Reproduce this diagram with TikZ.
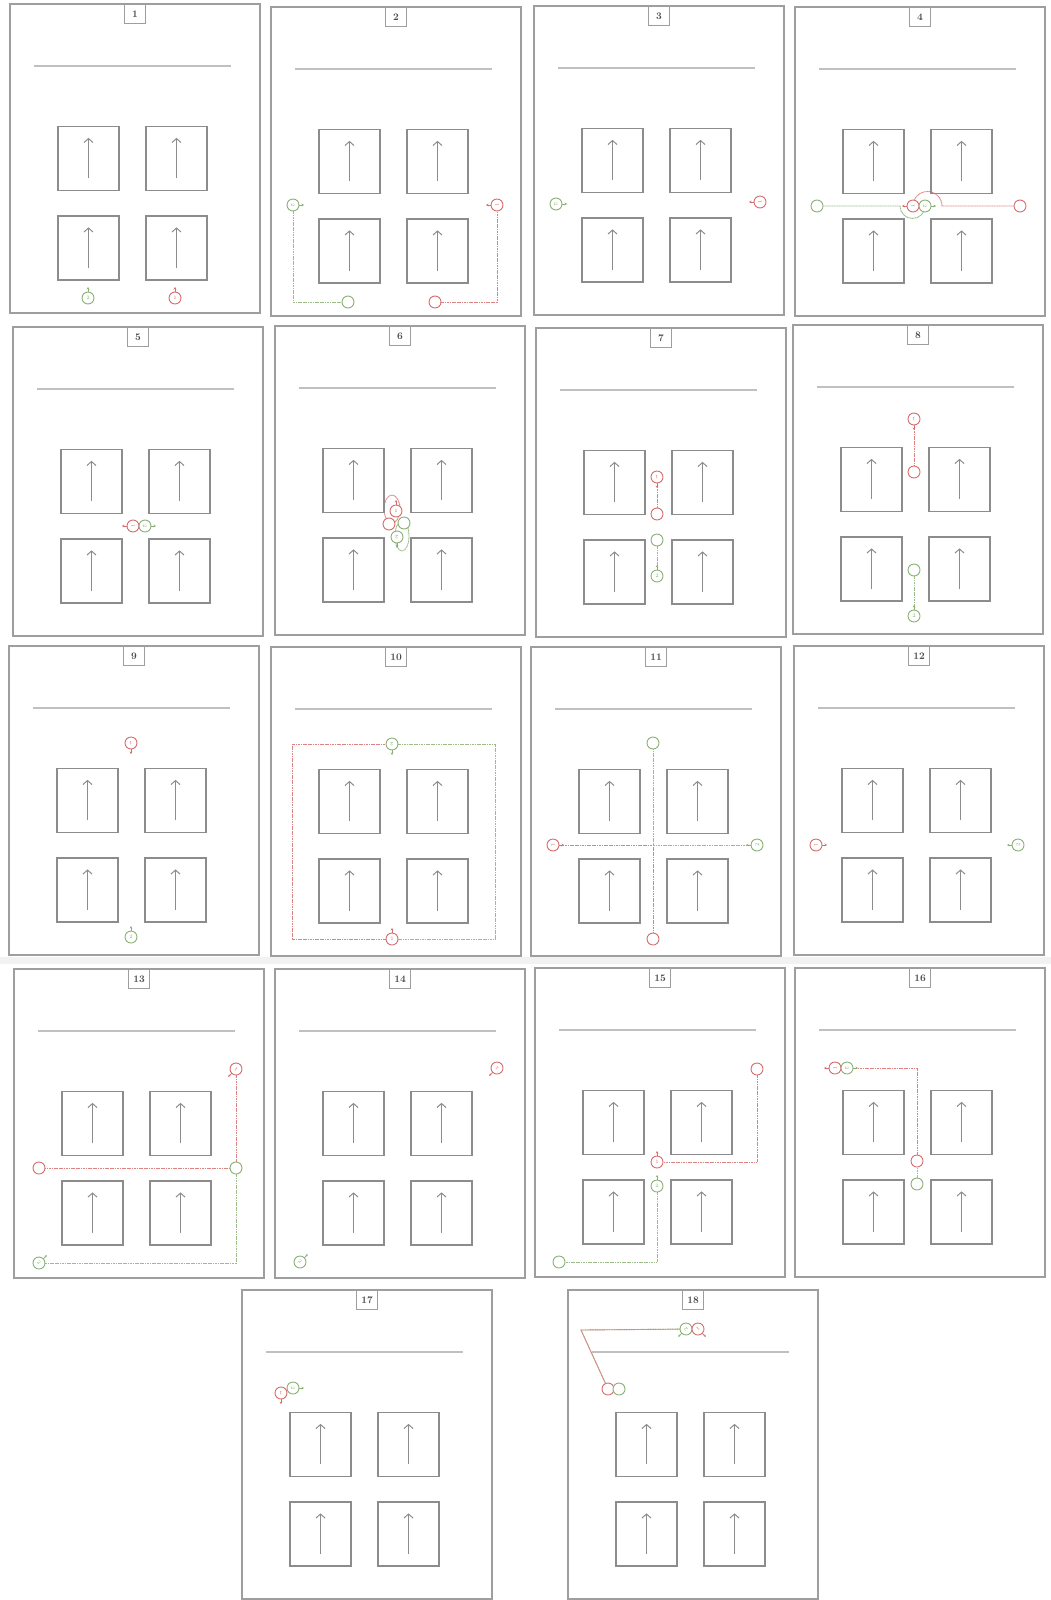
\documentclass[tikz,border=0pt]{standalone}
\usetikzlibrary{arrows.meta,backgrounds}
\definecolor{redc}{RGB}{214,108,108}
\definecolor{greenc}{RGB}{138,176,116}
\definecolor{framec}{RGB}{158,158,158}
\definecolor{boxc}{RGB}{140,140,140}
\definecolor{rulec}{RGB}{192,192,192}
% marker: name, position, r/g, number, heading (degrees)
\newcommand{\mrk}[5]{%
  \node[#3mark,rotate=#5-90] (#1) at #2 {#4};
  \draw[#3tick] (#1.center) ++({6*cos(#5)},{-6*sin(#5)}) -- ++({5*cos(#5)},{-5*sin(#5)});}

\begin{document}
\begin{tikzpicture}[x=1pt,y=-1pt,
  frame/.style={draw=framec,line width=1.6pt},
  lblbox/.style={draw=framec,line width=1pt,fill=white,minimum width=21pt,minimum height=19pt,inner sep=1pt,font=\bfseries\fontsize{10}{10}\selectfont,text=black!70},
  rule/.style={draw=rulec,line width=1.6pt},
  cell/.style={draw=boxc,line width=1.3pt,minimum width=61pt,minimum height=64pt,inner sep=0pt},
  uparrow/.style={draw=boxc,line width=1pt,-{Straight Barb[length=4pt,width=9pt]}},
  rmark/.style={circle,draw=redc,line width=0.9pt,fill=white,minimum size=12pt,inner sep=0pt,text=redc,font=\fontsize{5}{5}\selectfont},
  gmark/.style={circle,draw=greenc,line width=0.9pt,fill=white,minimum size=12pt,inner sep=0pt,text=greenc,font=\fontsize{5}{5}\selectfont},
  rdot/.style={circle,draw=redc,line width=0.9pt,fill=white,minimum size=12pt,inner sep=0pt},
  gdot/.style={circle,draw=greenc,line width=0.9pt,fill=white,minimum size=12pt,inner sep=0pt},
  rtick/.style={draw=redc,line width=0.7pt,-{Stealth[length=2.5pt,width=2.5pt]}},
  gtick/.style={draw=greenc,line width=0.7pt,-{Stealth[length=2.5pt,width=2.5pt]}},
  rpath/.style={draw=redc!85,line width=0.9pt,dash pattern=on 1.2pt off 0.5pt},
  gpath/.style={draw=greenc!85,line width=0.9pt,dash pattern=on 1.2pt off 0.5pt}]
\useasboundingbox (0,0) rectangle (1051,1600);
\fill[gray!10] (0,957) rectangle (1051,964);
% the 18 frames with their grid of four cells
\foreach \px/\py/\n in {10/4/1,271/7/2,534/6/3,795/7/4,13/327/5,275/326/6,536/328/7,793/325/8,
  9/646/9,271/647/10,531/647/11,794/646/12,14/969/13,275/969/14,535/968/15,795/968/16,242/1290/17,568/1290/18}{
\begin{scope}[shift={(\px,\py)}]
\draw[frame] (0,0) rectangle (250,309);
\node[lblbox,anchor=north] (lbl\n) at (125,0) {\n};
\draw[rule] (24,62) -- (221,62);
\foreach \bx/\by/\k in {78.5/154.5/a,166.5/154.5/b,78.5/244/c,166.5/244/d}{
  \node[cell] (b\n\k) at (\bx,\by) {};
  \draw[uparrow] ([yshift=13pt]b\n\k.south) -- ([yshift=-12pt]b\n\k.north);}
\end{scope}}
% 1
\begin{scope}[shift={(10,4)}]
\mrk{p1g}{(78,294)}{g}{2}{90}
\mrk{p1r}{(165,294)}{r}{1}{90}
\end{scope}
% 2
\begin{scope}[shift={(271,7)}]
\mrk{p2g}{(22,198)}{g}{2}{0}
\mrk{p2r}{(226,198)}{r}{1}{180}
\node[gdot] (p2go) at (77,295) {};
\node[rdot] (p2ro) at (164,295) {};
\begin{scope}[on background layer]
\draw[gpath] (p2g) |- (p2go);
\draw[rpath] (p2ro) -| (p2r);
\end{scope}
\end{scope}
% 3
\begin{scope}[shift={(534,6)}]
\mrk{p3g}{(22,198)}{g}{2}{0}
\mrk{p3r}{(226,196)}{r}{1}{180}
\end{scope}
% 4
\begin{scope}[shift={(795,7)}]
\node[gdot] (p4go) at (22,199) {};
\node[rdot] (p4ro) at (225,199) {};
\mrk{p4r}{(118,199)}{r}{1}{180}
\mrk{p4g}{(130,199)}{g}{2}{0}
\begin{scope}[on background layer]
\draw[gpath] (p4go) -- (105,199) arc[start angle=180,end angle=0,radius=12.5];
\draw[rpath] (p4ro) -- (147,199) arc[start angle=0,end angle=-180,radius=14.5];
\end{scope}
\end{scope}
% 5
\begin{scope}[shift={(13,327)}]
\mrk{p5r}{(120,199)}{r}{1}{180}
\mrk{p5g}{(132,199)}{g}{2}{0}
\end{scope}
% 6
\begin{scope}[shift={(275,326)}]
\node[rdot] (p6ro) at (114,198) {};
\node[gdot] (p6go) at (129,197) {};
\mrk{p6r}{(121,185)}{r}{1}{90}
\mrk{p6g}{(122,211)}{g}{2}{270}
\begin{scope}[on background layer]
\draw[rpath] (117,183) ellipse[x radius=8,y radius=14];
\draw[gpath] (127,210) ellipse[x radius=7,y radius=15];
\end{scope}
\end{scope}
% 7
\begin{scope}[shift={(536,328)}]
\mrk{p7r}{(121,149)}{r}{1}{270}
\node[rdot] (p7ro) at (121,186) {};
\node[gdot] (p7go) at (121,212) {};
\mrk{p7g}{(121,248)}{g}{2}{90}
\begin{scope}[on background layer]
\draw[rpath] (p7r) -- (p7ro);
\draw[gpath] (p7go) -- (p7g);
\end{scope}
\end{scope}
% 8
\begin{scope}[shift={(793,325)}]
\mrk{p8r}{(121,94)}{r}{1}{270}
\node[rdot] (p8ro) at (121,147) {};
\node[gdot] (p8go) at (121,245) {};
\mrk{p8g}{(121,291)}{g}{2}{90}
\begin{scope}[on background layer]
\draw[rpath] (p8r) -- (p8ro);
\draw[gpath] (p8go) -- (p8g);
\end{scope}
\end{scope}
% 9
\begin{scope}[shift={(9,646)}]
\mrk{p9r}{(122,97)}{r}{1}{270}
\mrk{p9g}{(122,291)}{g}{2}{90}
\end{scope}
% 10
\begin{scope}[shift={(271,647)}]
\mrk{p10g}{(121,97)}{g}{2}{270}
\mrk{p10r}{(121,292)}{r}{1}{90}
\begin{scope}[on background layer]
\draw[rpath] (p10r) -| (21,97) -- (p10g);
\draw[gpath] (p10g) -| (224,292) -- (p10r);
\end{scope}
\end{scope}
% 11
\begin{scope}[shift={(531,647)}]
\node[gdot] (p11go) at (122,96) {};
\node[rdot] (p11ro) at (122,292) {};
\mrk{p11r}{(22,198)}{r}{1}{0}
\mrk{p11g}{(226,198)}{g}{2}{180}
\begin{scope}[on background layer]
\draw[rpath] (p11r) -| (p11ro);
\draw[gpath] (p11g) -| (p11go);
\end{scope}
\end{scope}
% 12
\begin{scope}[shift={(794,646)}]
\mrk{p12r}{(22,199)}{r}{1}{0}
\mrk{p12g}{(224,199)}{g}{2}{180}
\end{scope}
% 13
\begin{scope}[shift={(14,969)}]
\node[rdot] (p13ro) at (25,199) {};
\node[gdot] (p13go) at (222,199) {};
\mrk{p13r}{(222,100)}{r}{1}{225}
\mrk{p13g}{(25,294)}{g}{2}{45}
\begin{scope}[on background layer]
\draw[rpath] (p13r) |- (p13ro);
\draw[gpath] (p13go) |- (p13g);
\end{scope}
\end{scope}
% 14
\begin{scope}[shift={(275,969)}]
\mrk{p14r}{(222,99)}{r}{1}{225}
\mrk{p14g}{(25,293)}{g}{2}{45}
\end{scope}
% 15
\begin{scope}[shift={(535,968)}]
\node[rdot] (p15ro) at (222,101) {};
\node[gdot] (p15go) at (24,294) {};
\mrk{p15r}{(122,194)}{r}{1}{90}
\mrk{p15g}{(122,218)}{g}{2}{90}
\begin{scope}[on background layer]
\draw[rpath] (p15ro) |- (p15r);
\draw[gpath] (p15g) |- (p15go);
\end{scope}
\end{scope}
% 16
\begin{scope}[shift={(795,968)}]
\node[rdot] (p16ro) at (122,193) {};
\node[gdot] (p16go) at (122,216) {};
\mrk{p16r}{(40,100)}{r}{1}{180}
\mrk{p16g}{(52,100)}{g}{2}{0}
\begin{scope}[on background layer]
\draw[gpath] (p16go) -- (p16ro) |- (p16g);
\draw[rpath] (p16ro) |- (p16r);
\end{scope}
\end{scope}
% 17
\begin{scope}[shift={(242,1290)}]
\mrk{p17r}{(39,103)}{r}{1}{270}
\mrk{p17g}{(51,98)}{g}{2}{0}
\end{scope}
% 18
\begin{scope}[shift={(568,1290)}]
\node[rdot] (p18ro) at (40,99) {};
\node[gdot] (p18go) at (51,99) {};
\mrk{p18g}{(118,39)}{g}{2}{225}
\mrk{p18r}{(130,39)}{r}{1}{315}
\coordinate (p18c) at (13,40);
\begin{scope}[on background layer]
\draw[gpath] (p18g) -- (p18c) -- (p18ro) -- (p18go);
\draw[rpath] (p18r) -- (p18c) -- (p18ro);
\end{scope}
\end{scope}
\end{tikzpicture}
\end{document}
